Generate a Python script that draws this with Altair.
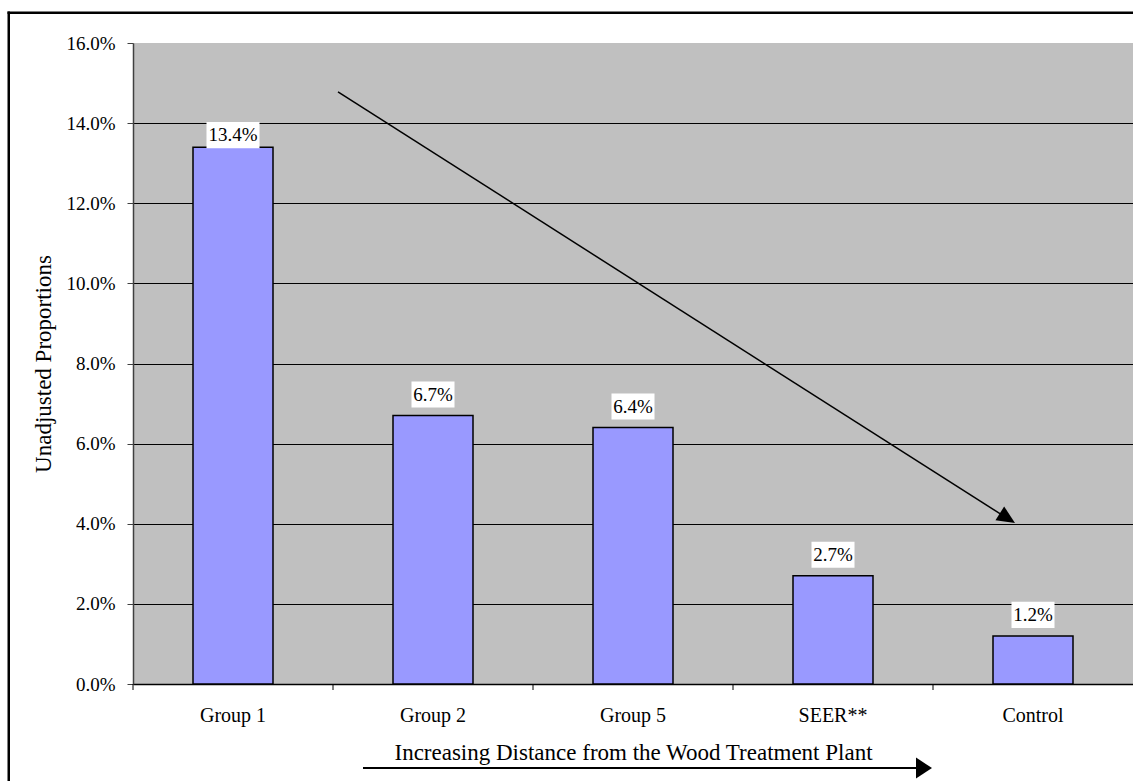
import altair as alt
import pandas as pd

groups = ["Group 1", "Group 2", "Group 5", "SEER**", "Control"]
proportions = [0.134, 0.067, 0.064, 0.027, 0.012]
labels = ["13.4%", "6.7%", "6.4%", "2.7%", "1.2%"]
y_ticks = [0.0, 0.02, 0.04, 0.06, 0.08, 0.10, 0.12, 0.14, 0.16]

x_title = "Increasing Distance from the Wood Treatment Plant"
y_title = "Unadjusted Proportions"

df = pd.DataFrame({"group": groups, "value": proportions, "label": labels})
one = pd.DataFrame({"k": [0]})

SERIF = "Liberation Serif"
W, H = 1000, 641

xscale = alt.Scale(domain=groups, paddingInner=0.6, paddingOuter=0.3)
yscale = alt.Scale(domain=[0, 0.16], nice=False, zero=True)

xaxis = alt.Axis(
    title=x_title, titleFont=SERIF, titleFontSize=23, titleFontWeight="normal",
    titleColor="black", titlePadding=16,
    labelAngle=0, labelFont=SERIF, labelFontSize=20, labelColor="black",
    labelPadding=21, ticks=False, domainColor="black", domainWidth=1.5,
)
yaxis = alt.Axis(
    values=y_ticks, format=".1%", title=y_title, titleFont=SERIF,
    titleFontSize=23, titleFontWeight="normal", titleColor="black",
    titleX=-90, titleY=H / 2, titleBaseline="middle", titleAngle=-90,
    labelFont=SERIF, labelFontSize=19, labelColor="black", labelPadding=12,
    tickSize=6, tickColor="#404040", domainColor="#404040", domainWidth=1.5,
    grid=True, gridWidth=1, gridOpacity=1,
    gridColor={"condition": {"test": "datum.value >= 0.159", "value": "#C0C0C0"}, "value": "black"},
)


def X():
    return alt.X("group:N", sort=groups, scale=xscale, axis=xaxis)


def Y(field):
    return alt.Y(field, type="quantitative", scale=yscale, axis=yaxis)


# outer figure frame (left and top edges; the rest lies outside the crop)
frame_left = alt.Chart(one).mark_rect(fill="black", strokeWidth=0).encode(
    x=alt.value(-125.5), x2=alt.value(-123), y=alt.value(-31.5), y2=alt.value(H + 97)
)
frame_top = alt.Chart(one).mark_rect(fill="black", strokeWidth=0).encode(
    x=alt.value(-125.5), x2=alt.value(W), y=alt.value(-31.5), y2=alt.value(-29)
)

bars = alt.Chart(df).mark_bar(fill="#9999FF", stroke="black", strokeWidth=1.5).encode(
    x=X(), y=Y("value")
)

xticks = alt.Chart(df).mark_rule(color="black", strokeWidth=1, xOffset=-100).encode(
    x=X(), y=alt.value(H), y2=alt.value(H + 6)
)

lab = alt.Chart(df).transform_calculate(
    gap="datum.value > 0.1 ? -0.00025 : 0.002",
).transform_calculate(
    lb="datum.value + datum.gap",
    lt="datum.value + datum.gap + 0.0065",
    lm="datum.value + datum.gap + 0.00325",
    bw="length(datum.label) > 4 ? 53 : 43",
)

boxes = lab.mark_bar(fill="white", strokeWidth=0).encode(
    x=X(), y=Y("lb"), y2="lt:Q", size=alt.Size("bw:Q", scale=None)
)
texts = lab.mark_text(font=SERIF, fontSize=19, color="black", baseline="middle").encode(
    x=X(), y=Y("lm"), text="label:N"
)

diag = alt.Chart(one).mark_rule(color="black", strokeWidth=1.5).encode(
    x=alt.value(205), x2=alt.value(874),
    y=alt.Y(datum=0.1478, scale=yscale, axis=yaxis), y2=alt.Y2(datum=0.0414),
)
diag_head = alt.Chart(one).mark_point(
    shape="M 1 0 L -1 -0.9 L -1 0.9 Z", filled=True, fill="black", stroke=None,
    size=324, angle=32.5, opacity=1,
).encode(x=alt.value(874.4), y=alt.Y(datum=0.0414, scale=yscale, axis=yaxis))

bottom_line = alt.Chart(one).mark_rule(color="black", strokeWidth=2).encode(
    x=alt.value(230), x2=alt.value(791), y=alt.value(725)
)
bottom_head = alt.Chart(one).mark_point(
    shape="M 1 0 L -1 -1.3 L -1 1.3 Z", filled=True, fill="black", stroke=None,
    size=256, angle=0, opacity=1,
).encode(x=alt.value(791), y=alt.value(725))

chart = alt.layer(
    frame_left, frame_top, bars, xticks, boxes, texts, diag, diag_head,
    bottom_line, bottom_head
).properties(
    width=W, height=H,
    autosize=alt.AutoSizeParams(type="none"),
    padding={"left": 133, "top": 43, "right": 0, "bottom": 97},
    background="white",
).configure_view(fill="#C0C0C0", stroke=None).configure_axis(
    labelFont=SERIF, titleFont=SERIF, labelColor="black", titleColor="black"
)

chart.save("out.html", embed_options={"renderer": "svg", "actions": False})
